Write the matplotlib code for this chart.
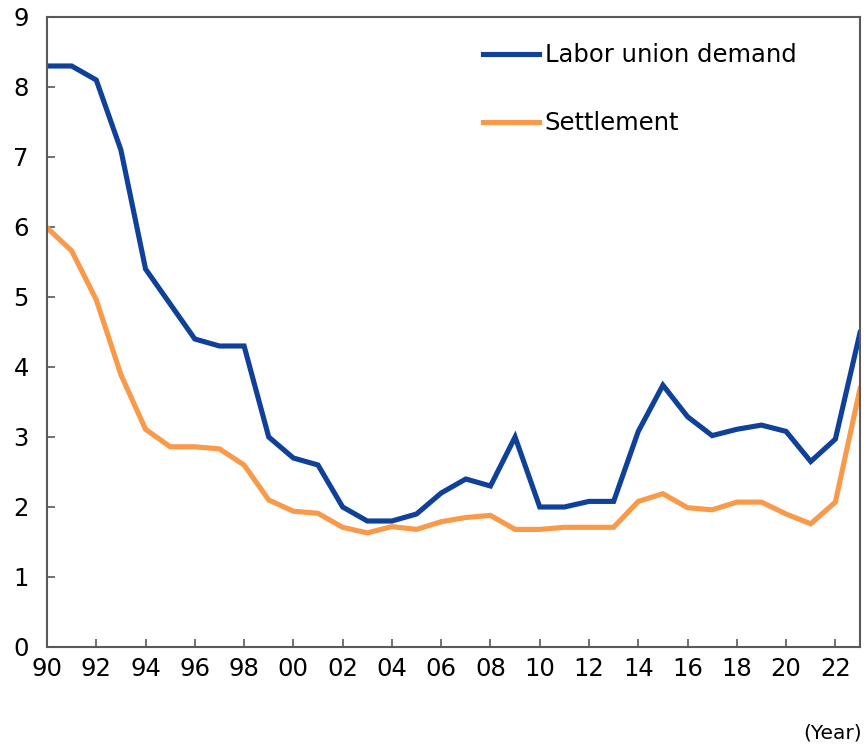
import numpy as np
from matplotlib import pyplot as plt

# annual data, 1990-2023
years = np.arange(1990, 2024)
demand = [8.3, 8.3, 8.1, 7.1, 5.4, 4.9, 4.4, 4.3, 4.3, 3.0,
          2.7, 2.6, 2.0, 1.8, 1.8, 1.9, 2.2, 2.4, 2.3, 3.0,
          2.0, 2.0, 2.08, 2.08, 3.08, 3.74, 3.29, 3.02, 3.11, 3.17,
          3.08, 2.65, 2.97, 4.49]
settlement = [5.99, 5.66, 4.96, 3.89, 3.11, 2.86, 2.86, 2.83, 2.6, 2.1,
              1.94, 1.91, 1.71, 1.63, 1.72, 1.68, 1.79, 1.85, 1.88, 1.68,
              1.68, 1.71, 1.71, 1.71, 2.08, 2.19, 1.99, 1.96, 2.07, 2.07,
              1.9, 1.76, 2.07, 3.69]
tick_years = np.arange(1990, 2023, 2)
tick_labels = ["%02d" % (y % 100) for y in tick_years]

BLUE = "#10419a"
ORANGE = "#f9994a"
GRAY = "#595959"

plt.rcParams['font.family'] = ['DejaVu Sans']

fig = plt.figure(figsize=(8.66, 7.44), dpi=100)
ax = fig.add_axes([47/866, 1-647/744, (860-47)/866, (647-17)/744])

ax.plot(years, demand, color=BLUE, lw=3.7, label="Labor union demand",
        solid_joinstyle='miter')
ax.plot(years, settlement, color=ORANGE, lw=3.7, label="Settlement",
        solid_joinstyle='miter')

ax.set_xlim(1990, 2023)
ax.set_ylim(0, 9)
ax.set_yticks(range(0, 10))
ax.set_xticks(tick_years)
ax.set_xticklabels(tick_labels)

for s in ax.spines.values():
    s.set_color(GRAY)
    s.set_linewidth(1.5)

ax.tick_params(axis='both', direction='in', color=GRAY, width=1.2, length=6,
               labelsize=17.5, labelcolor='black')
ax.tick_params(axis='y', pad=13)
ax.tick_params(axis='x', pad=7)

leg = ax.legend(loc='upper left', bbox_to_anchor=(0.536, 0.958), frameon=False,
                fontsize=17.5, handlelength=2.3, handletextpad=0.25,
                labelspacing=1.8, borderaxespad=0, borderpad=0)

fig.text(862/866, 1-733/744, "(Year)", ha='right', va='center', fontsize=14.5)

fig.savefig("out.png", dpi=100)
